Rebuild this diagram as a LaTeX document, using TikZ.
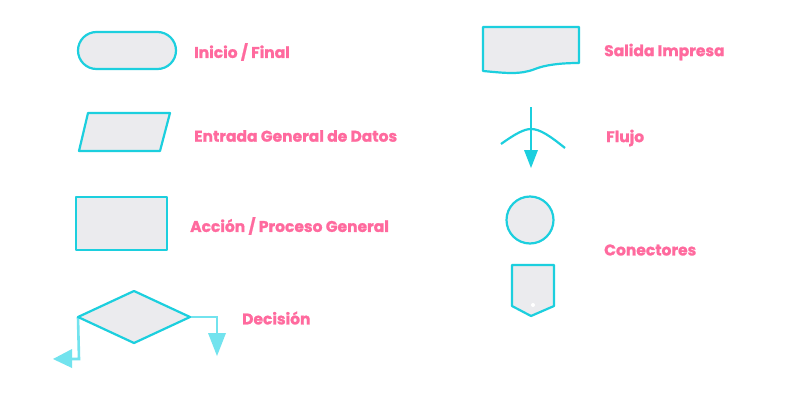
\documentclass[tikz,border=0pt]{standalone}
\usepackage{fontspec}
\setmainfont{Poppins}[BoldFeatures={FakeBold=1.2}]
\usetikzlibrary{arrows.meta}
\definecolor{cy}{HTML}{1CCFDE}
\definecolor{lcy}{HTML}{72E3EE}
\definecolor{pk}{HTML}{FF6A9E}
\definecolor{gf}{HTML}{EBEBEE}
\tikzset{
  shp/.style={draw=cy, line width=2.2pt, fill=gf, line join=round},
  lbl/.style={text=pk, font=\bfseries\fontsize{15.5}{18}\selectfont, anchor=west, inner sep=0pt},
  lflow/.style={draw=lcy, line width=2.6pt},
}
\begin{document}
\begin{tikzpicture}[x=1pt,y=-1pt]
\useasboundingbox[fill=white] (0,0) rectangle (787,418);
% terminal
\node[shp, rounded corners=18.5pt, minimum width=98pt, minimum height=37pt, inner sep=0pt] (term) at (127,50.5) {};
\node[lbl] (t1) at (194,52) {Inicio / Final};
% parallelogram
\filldraw[shp] (88,113) -- (170,113) -- (160,151) -- (79,151) -- cycle;
\node[lbl] (t2) at (194,136) {Entrada General de Datos};
% rectangle
\node[shp, minimum width=91pt, minimum height=53pt, inner sep=0pt] (proc) at (121.5,223.5) {};
\node[lbl] (t3) at (190,226) {Acción / Proceso General};
% decision
\coordinate (dl) at (78,317);
\coordinate (dr) at (190,317);
\coordinate (dll) at (79,359);
\coordinate (dlt) at (53,359);
\coordinate (drr) at (217,317);
\coordinate (drt) at (217,356);
\draw[lflow] (dl) -- (dll) -- ++(-8,0);
\fill[lcy] (dlt) -- (72,349) -- (72,368) -- cycle;
\draw[lflow] (dr) -- (drr) -- ++(0,18);
\fill[lcy] (drt) -- (208,333) -- (226,333) -- cycle;
\filldraw[shp] (dl) -- (134,291) -- (dr) -- (134,343) -- cycle;
\node[lbl] (t4) at (242,318) {Decisión};
% document
\filldraw[shp] (483,27) -- (579,27) -- (579,63) .. controls (560,63) and (545,65) .. (535,69) .. controls (520,75) and (505,73) .. (483,71) -- cycle;
\node[lbl] (t5) at (604,52) {Salida Impresa};
% flow
\coordinate (ftop) at (531,107);
\coordinate (ftip) at (531,168);
\draw[draw=cy, line width=2.2pt] (501,144) .. controls (515,134) and (524,129) .. (531,129) .. controls (540,129) and (550,136) .. (565,148);
\draw[draw=cy, line width=2.2pt] (ftop) -- (531,152);
\fill[cy] (ftip) -- (524,150) -- (538,150) -- cycle;
\node[lbl] (t6) at (606,138) {Flujo};
% connectors
\node[shp, circle, minimum size=47pt, inner sep=0pt] (con) at (530,220) {};
\filldraw[shp] (512,265) -- (554,265) -- (554,306) -- (531,316) -- (512,306) -- cycle;
\fill[white] (533,305) circle (2pt);
\node[lbl] (t7) at (604,250) {Conectores};
\end{tikzpicture}
\end{document}
